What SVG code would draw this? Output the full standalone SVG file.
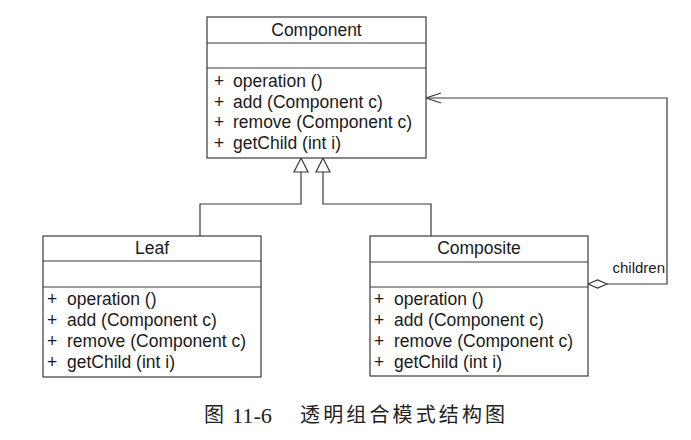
<svg xmlns="http://www.w3.org/2000/svg" width="691" height="440" viewBox="0 0 691 440">
  <style>
    .box { fill: #ffffff; stroke: #3a3a3a; stroke-width: 1.2; }
    .div { stroke: #3a3a3a; stroke-width: 1.2; }
    .t { font-family: "Liberation Sans", Arial, sans-serif; font-size: 17.5px; fill: #1a1a1a; }
    .name { text-anchor: middle; }
    .lbl { font-family: "Liberation Sans", Arial, sans-serif; font-size: 15px; fill: #1a1a1a; }
    .conn { fill: none; stroke: #3a3a3a; stroke-width: 1.2; }
    .cap { font-family: "Liberation Serif", "Noto Sans CJK SC", serif; fill: #222222; }
  </style>
  <rect width="691" height="440" fill="#ffffff"/>

  <g id="connectors">
    <path class="conn" d="M200 236 V204 H301 V172"/>
    <polygon class="conn" points="301,158 294,172 308,172" style="fill:#ffffff"/>
    <path class="conn" d="M431 236 V204 H323 V172"/>
    <polygon class="conn" points="323,158 316,172 330,172" style="fill:#ffffff"/>
    <path class="conn" d="M607 284 H667 V98 H426"/>
    <polygon class="conn" points="588,284 597.5,280 607,284 597.5,288" style="fill:#ffffff"/>
    <path class="conn" d="M441 93 L426 98 L441 103"/>
    <text class="lbl" x="665" y="273" text-anchor="end">children</text>
  </g>

  <g id="component">
    <rect class="box" x="207" y="17" width="219" height="141"/>
    <line class="div" x1="207" y1="43" x2="426" y2="43"/>
    <line class="div" x1="207" y1="68" x2="426" y2="68"/>
    <text class="t name" x="316.5" y="36">Component</text>
    <text class="t" x="214" y="87">+<tspan x="233">operation ()</tspan></text>
    <text class="t" x="214" y="108">+<tspan x="233">add (Component c)</tspan></text>
    <text class="t" x="214" y="128">+<tspan x="233">remove (Component c)</tspan></text>
    <text class="t" x="214" y="149">+<tspan x="233">getChild (int i)</tspan></text>
  </g>

  <g id="leaf">
    <rect class="box" x="43" y="236" width="218" height="141"/>
    <line class="div" x1="43" y1="261" x2="261" y2="261"/>
    <line class="div" x1="43" y1="287" x2="261" y2="287"/>
    <text class="t name" x="152" y="254">Leaf</text>
    <text class="t" x="47" y="305">+<tspan x="67">operation ()</tspan></text>
    <text class="t" x="47" y="326">+<tspan x="67">add (Component c)</tspan></text>
    <text class="t" x="47" y="347">+<tspan x="67">remove (Component c)</tspan></text>
    <text class="t" x="47" y="368">+<tspan x="67">getChild (int i)</tspan></text>
  </g>

  <g id="composite">
    <rect class="box" x="370" y="236" width="218" height="140"/>
    <line class="div" x1="370" y1="262" x2="588" y2="262"/>
    <line class="div" x1="370" y1="287" x2="588" y2="287"/>
    <text class="t name" x="479" y="254">Composite</text>
    <text class="t" x="374" y="305">+<tspan x="394">operation ()</tspan></text>
    <text class="t" x="374" y="326">+<tspan x="394">add (Component c)</tspan></text>
    <text class="t" x="374" y="347">+<tspan x="394">remove (Component c)</tspan></text>
    <text class="t" x="374" y="368">+<tspan x="394">getChild (int i)</tspan></text>
  </g>

  <g id="caption">
    <text class="cap" x="204" y="422" font-size="20">图</text>
    <text class="cap" x="232" y="423" font-size="22" textLength="40" lengthAdjust="spacingAndGlyphs">11-6</text>
    <text class="cap" x="300" y="422" font-size="20" textLength="205" lengthAdjust="spacing">透明组合模式结构图</text>
  </g>
</svg>
